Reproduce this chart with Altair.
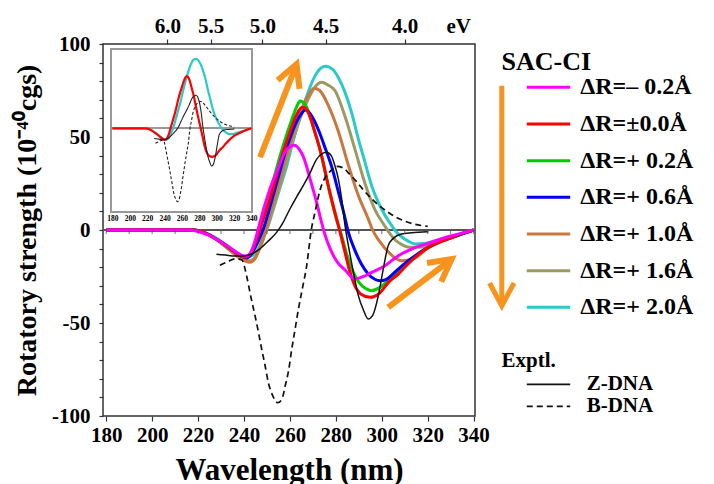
import math
import altair as alt
import pandas as pd

# ---------------- data ----------------
SERIES = ["ΔR=– 0.2Å", "ΔR=±0.0Å", "ΔR=+ 0.2Å", "ΔR=+ 0.6Å",
          "ΔR=+ 1.0Å", "ΔR=+ 1.6Å", "ΔR=+ 2.0Å"]
COLORS = ["#FF00FF", "#FF0000", "#00CC00", "#0000FF",
          "#C8783C", "#9C9A62", "#2ACACA"]

WL_M02 = [180, 200, 216, 220, 225, 230, 235, 238, 240, 242, 244, 246.3, 248.5, 251.3, 254.5, 257.8, 260, 262, 264, 265.8,
          267.3, 269, 271.6, 273.8, 275, 277.5, 280.5, 284, 288.3, 292, 295.6, 301.4, 307.2, 314, 321.7, 327, 333.3, 340]
RS_M02 = [0, 0, 0, -0.8, -3, -6.5, -10.5, -13, -14, -13.5, -9, 1, 11, 22, 32, 41.8, 44.8, 45.5, 43.5, 39.5,
          34, 26.5, 15, 4, -1.5, -10, -17, -21.5, -26.3, -25, -22.8, -19.2, -13.8, -9.7, -6.6, -4.3, -2.2, 0]

WL_P00 = [180, 200, 218, 222, 226, 230, 234, 238, 240.5, 243, 245, 247, 249, 251.3, 253.5, 255.7, 258, 260, 262.2, 264,
          265.5, 267, 269, 271, 273.8, 276.5, 279.6, 281.8, 284, 286, 288.3, 291, 295, 299, 303, 307.2, 310, 314.5, 320, 325,
          329, 334, 340]
RS_P00 = [0, 0, 0, -1, -3.5, -6.5, -10, -13.5, -14.7, -12.5, -7, 0.5, 8, 16.7, 26, 36.4, 45.5, 52.5, 60, 64.5,
          66, 65, 60, 52, 40, 25, 9.5, -1, -12, -22, -30, -34.5, -36.2, -34, -28, -23.7, -20, -14.7, -9.5, -6.5,
          -4.8, -2.2, 0]

WL_P02 = [180, 200, 218, 222, 226, 230, 234, 238, 240.5, 243, 245, 247, 249, 251, 253.5, 256, 258.5, 261, 263, 264.4,
          266, 268, 270, 272.5, 275, 277.5, 280, 282.5, 284.5, 287, 290, 293, 295.5, 299, 303, 307, 311, 315, 320, 325,
          330, 335, 340]
RS_P02 = [0, 0, 0, -1, -3.5, -6.5, -10, -13.5, -14.5, -12, -6, 1.5, 10, 19, 30, 41, 51, 60, 66.5, 69.3,
          68.5, 64, 56, 46, 33, 19, 7, -3, -12, -21, -28, -31.5, -32.6, -31, -27, -22, -17.5, -13.5, -9.5, -6.5,
          -4.2, -2, 0]

WL_P06 = [180, 200, 218, 222, 226, 230, 234, 238, 241, 243.5, 246, 248.4, 250.5, 253, 255.5, 258, 260.5, 263, 265, 266.6,
          268.5, 270.5, 273, 275.5, 278.2, 281, 283.5, 285.4, 288, 291, 294, 297, 299.2, 302, 305, 307.2, 311, 315, 320, 325,
          330, 335, 340]
RS_P06 = [0, 0, 0, -1, -3.5, -6.5, -10, -13.5, -15, -12.5, -6.5, 0.5, 9, 20, 31, 42, 51, 58.5, 62.5, 64.5,
          63, 59, 52, 43.5, 34, 21, 9, -1, -10, -18, -23.5, -26.5, -27.3, -26.5, -23.5, -21, -17, -13.5, -9.5, -6.5,
          -4.2, -2, 0]

WL_P10 = [180, 200, 218, 222, 226, 230, 234, 238, 242.6, 245, 247, 249.3, 252, 254.5, 257, 259.5, 262, 264.5, 267, 270.6,
          273, 276.7, 281.1, 285.4, 289.8, 294.1, 296, 299, 303, 308.6, 312, 315, 320, 325, 330, 335, 340]
RS_P10 = [0, 0, 0, -1, -3.5, -7, -11, -15, -17.4, -15, -9, -0.5, 12, 23, 34, 45, 55, 63, 70, 76.2,
          75, 67, 53, 35, 18.5, 6, 0, -6, -12, -16.5, -16, -14.7, -9.8, -6.7, -4.4, -2.1, 0]

WL_P16 = [180, 200, 218, 222, 226, 230, 234, 238, 242.5, 245, 247.5, 249.8, 252.5, 255, 257.5, 260, 262.5, 265, 268, 271,
          273.8, 276.5, 279.6, 284, 288.3, 292.7, 297, 301.4, 303, 306, 309, 312, 316, 320, 325, 330, 335, 340]
RS_P16 = [0, 0, 0, -1, -3.5, -7, -11, -14.5, -16.5, -14.5, -8, 0, 11, 21, 32, 43, 53, 62, 70.5, 77,
          79.4, 78, 75, 61, 43.5, 25, 11, 2, -1, -5.5, -8, -9.3, -9.3, -8.5, -6.3, -4.2, -2, 0]

WL_P20 = [180, 200, 218, 222, 226, 230, 234, 238, 241.5, 244, 246, 248, 250, 253, 256, 258.5, 261, 263.5, 266, 268.5,
          271, 273, 275.5, 278.5, 281.5, 284, 286.9, 289.8, 292.7, 295.6, 299.9, 304.3, 306, 308.5, 311.5, 314.5, 318, 322,
          326, 330, 335, 340]
RS_P20 = [0, 0, 0, -1, -3, -6, -9.5, -13, -14.5, -13.5, -10.5, -5, 0.5, 12, 24, 34, 46, 57, 67, 76,
          83, 86.5, 88, 86.5, 81, 74, 63, 49, 36.4, 23.8, 11.3, 2.3, -0.5, -3.5, -6, -7.5, -7.3, -6.2,
          -4.8, -3.6, -1.8, 0]

SAC_WL = [WL_M02, WL_P00, WL_P02, WL_P06, WL_P10, WL_P16, WL_P20]
SAC_RS = [RS_M02, RS_P00, RS_P02, RS_P06, RS_P10, RS_P16, RS_P20]

EXP_NAMES = ["Z-DNA", "B-DNA"]
WL_Z = [228, 232, 236, 240, 244, 247, 250.5, 254.2, 257, 260, 263, 265.8, 268.5, 271.6, 274, 276, 278, 279.5, 281.1, 282.5,
        284, 286, 288, 289.8, 292, 294.1, 296, 298.5, 300.5, 302.8, 305, 308.6, 313, 316, 320.3]
RS_Z = [-13, -13.5, -14, -14, -12.5, -10, -6, -1.3, 4, 11.3, 18, 23.8, 30, 38, 41, 41.8, 40, 35, 27.4, 17,
        2.3, -12, -25, -35.3, -43, -47.8, -46, -35.3, -22, -8.4, -4.5, -2.2, -1.5, -1.2, -0.9]
WL_B = [229.5, 233, 236, 239, 241.2, 243, 244.8, 246.3, 247.7, 249.2, 250.6, 252.5, 254.7, 256.5, 257.9, 259.5, 260.8,
        262.3, 263.7, 265.5, 267.3, 269.3, 271, 273, 275, 277.5, 280.3, 283, 286, 289, 292, 295, 298, 302.7, 306, 310,
        314, 317.9, 320]
RS_B = [-19, -17, -15.5, -16, -25, -36, -46, -55, -64, -73, -82, -89, -92.8, -91, -84, -75, -64,
        -53, -42.5, -31, -19.2, 0, 10, 21, 27.5, 31.5, 34.2, 33.5, 30, 26, 21.5, 17.5, 14, 9.6, 7, 4.8,
        3.2, 2.3, 2]

X_TICKS = [180, 200, 220, 240, 260, 280, 300, 320, 340]
Y_TICKS = [-100, -90, -80, -70, -60, -50, -40, -30, -20, -10, 0, 10, 20, 30, 40, 50, 60, 70, 80, 90, 100]
ZERO_TICKS = [180, 190, 200, 210, 220, 230, 240, 250, 260, 270, 280, 290, 300, 310, 320, 330, 340]
EV_TICKS = [6.0, 5.5, 5.0, 4.5, 4.0]
EV_LABEL_WL = 333.3
HC_EV_NM = 1239.84

ARROW_TAIL_WL = [247.0, 302.8]
ARROW_TAIL_RS = [39.1, -41.6]
ARROW_TIP_WL = [262.9, 330.4]
ARROW_TIP_RS = [89.2, -15.6]

# ---------------- tables ----------------
rows = []
for name, wls, vals in zip(SERIES, SAC_WL, SAC_RS):
    for w, v in zip(wls, vals):
        rows.append({"series": name, "wl": w, "rs": v})
for name, wls, vals in zip(EXP_NAMES, [WL_Z, WL_B], [RS_Z, RS_B]):
    for w, v in zip(wls, vals):
        rows.append({"series": name, "wl": w, "rs": v})
df = pd.DataFrame(rows)

# ---------------- layout ----------------
W, H = 372, 372
X_DOM = [178.6, 340.6]
Y_DOM = [-100, 100]
FONT = "Liberation Serif"
ORANGE = "#F7941D"
FRAME = "#333333"

px_nm = W / (X_DOM[1] - X_DOM[0])
px_rs = H / (Y_DOM[1] - Y_DOM[0])

xs = alt.Scale(domain=X_DOM, nice=False, zero=False)
ys = alt.Scale(domain=Y_DOM, nice=False, zero=False)

x_axis = alt.Axis(orient="bottom", values=X_TICKS, format="d", title="Wavelength (nm)",
                  tickSize=5, labelPadding=3, titlePadding=10, labelFontSize=21, titleFontSize=31,
                  labelFlush=False)
y_axis = alt.Axis(orient="left", values=Y_TICKS, title="Rotatory strength (10⁻⁴⁰cgs)",
                  labelExpr="datum.value % 50 === 0 ? (datum.value < 0 ? '-' + abs(datum.value) : '' + datum.value) : ''",
                  tickSize=4, labelPadding=9, titlePadding=10, labelFontSize=21, titleFontSize=28,
                  labelOverlap=False, labelFlush=False)


def curve(name, color, width, xscale, yscale, dash=None, xaxis=None, yaxis=None):
    mk = {"color": color, "strokeWidth": width, "interpolate": "monotone"}
    if dash is not None:
        mk["strokeDash"] = dash
    return (alt.Chart(df)
            .transform_filter(alt.datum.series == name)
            .mark_line(**mk)
            .encode(x=alt.X("wl:Q", scale=xscale, axis=xaxis),
                    y=alt.Y("rs:Q", scale=yscale, axis=yaxis)))


# ---------- main panel (all layers carry the same axis definitions) ----------
zero_line = alt.Chart(df).mark_rule(color="#555555", strokeWidth=1.2).encode(
    y=alt.Y(datum=0, scale=ys, axis=y_axis))

draw_order = [6, 5, 4, 2, 3, 1, 0]
main_layers = [zero_line]
for i in draw_order:
    main_layers.append(curve(SERIES[i], COLORS[i], 3, xs, ys, xaxis=x_axis, yaxis=y_axis))
main_layers.append(curve("Z-DNA", "#111111", 1.5, xs, ys, xaxis=x_axis, yaxis=y_axis))
main_layers.append(curve("B-DNA", "#111111", 1.7, xs, ys, dash=[6, 4], xaxis=x_axis, yaxis=y_axis))

arr = pd.DataFrame({"wl0": ARROW_TAIL_WL, "rs0": ARROW_TAIL_RS,
                    "wl1": ARROW_TIP_WL, "rs1": ARROW_TIP_RS})
arr["ang"] = [math.degrees(math.atan2((b - a) * px_nm, (d - c) * px_rs))
              for a, b, c, d in zip(arr.wl0, arr.wl1, arr.rs0, arr.rs1)]
CHEVRON = "M-0.47,0.88L0,0L0.47,0.88"
shafts = alt.Chart(arr).mark_rule(color=ORANGE, strokeWidth=6, strokeCap="butt").encode(
    x=alt.X("wl0:Q", scale=xs, axis=x_axis), x2="wl1:Q",
    y=alt.Y("rs0:Q", scale=ys, axis=y_axis), y2="rs1:Q")
heads = alt.Chart(arr).mark_point(shape=CHEVRON, filled=False, color=ORANGE, strokeWidth=6,
                                  size=2500, opacity=1, strokeJoin="miter", strokeCap="butt").encode(
    x=alt.X("wl1:Q", scale=xs, axis=x_axis), y=alt.Y("rs1:Q", scale=ys, axis=y_axis),
    angle=alt.Angle("ang:Q", scale=None))
main_layers += [shafts, heads]
main = alt.layer(*main_layers)

# ---------- top (eV) axis + ticks on the zero line ----------
top_values = [HC_EV_NM / e for e in EV_TICKS] + [EV_LABEL_WL]
ev_axis = alt.Axis(orient="top", values=top_values, title=None, tickSize=5, labelPadding=3,
                   labelFontSize=21, labelFlush=False,
                   labelExpr=f"datum.value > 330 ? 'eV' : format({HC_EV_NM}/datum.value, '.1f')",
                   tickOpacity={"condition": {"test": "datum.value > 330", "value": 0}, "value": 1})
zt = pd.DataFrame({"wl": ZERO_TICKS, "zero": [0] * len(ZERO_TICKS)})
top = alt.Chart(zt).mark_tick(orient="vertical", size=4, thickness=1.2, color="#555555", yOffset=2).encode(
    x=alt.X("wl:Q", scale=xs, axis=ev_axis),
    y=alt.Y("zero:Q", scale=ys, axis=None))

# ---------- inset ----------
IN_X_RANGE = [8.2, 149.0]
IN_Y_DOM = [-105.6, 100.4]
IN_Y_RANGE = [167.7, 5.0]
xi = alt.Scale(domain=X_DOM, range=IN_X_RANGE, nice=False, zero=False)
yi = alt.Scale(domain=IN_Y_DOM, range=IN_Y_RANGE, nice=False, zero=False)
in_axis = alt.Axis(orient="bottom", values=X_TICKS, format="d", title=None, ticks=False, domain=False,
                   labelFontSize=7.5, labelPadding=3, offset=IN_Y_RANGE[0] - H, labelOverlap=False,
                   labelFlush=False)
in_frame = alt.Chart(df).mark_rect(filled=False, stroke="#999999", strokeWidth=1.2).encode(
    x=alt.X(datum=X_DOM[0], scale=xi, axis=in_axis), x2=alt.X2(datum=X_DOM[1]),
    y=alt.Y(datum=IN_Y_DOM[0], scale=yi, axis=None), y2=alt.Y2(datum=IN_Y_DOM[1]))
in_zero = alt.Chart(df).mark_rule(color="#999999", strokeWidth=1).encode(
    x=alt.X(datum=X_DOM[0], scale=xi, axis=in_axis), x2=alt.X2(datum=X_DOM[1]),
    y=alt.Y(datum=0, scale=yi, axis=None))
inset = alt.layer(
    in_frame, in_zero,
    curve(SERIES[6], COLORS[6], 2.2, xi, yi, xaxis=in_axis),
    curve(SERIES[1], COLORS[1], 2.2, xi, yi, xaxis=in_axis),
    curve("Z-DNA", "#222222", 1.1, xi, yi, xaxis=in_axis),
    curve("B-DNA", "#222222", 1.1, xi, yi, dash=[3, 2], xaxis=in_axis),
)

# ---------- legend panel ----------
xl = alt.Scale(domain=[0, 1], range=[423.8, 467.2], nice=False, zero=False)
yl = alt.Scale(domain=[0, 6], range=[43.3, 263.3], nice=False, zero=False)
leg_sac = pd.DataFrame({"label": SERIES, "row": list(range(len(SERIES)))})
leg_exp = pd.DataFrame({"label": EXP_NAMES, "row": [8.1, 8.7]})
leg_head = pd.DataFrame({"label": ["SAC-CI", "Exptl."], "row": [-0.69, 7.46], "size": [26, 21]})

sac_lines = alt.Chart(leg_sac).mark_rule(strokeWidth=3).encode(
    x=alt.X(datum=0, scale=xl, axis=None), x2=alt.X2(datum=1),
    y=alt.Y("row:Q", scale=yl, axis=None),
    color=alt.Color("label:N", scale=alt.Scale(domain=SERIES, range=COLORS), legend=None))
sac_text = alt.Chart(leg_sac).mark_text(align="left", baseline="middle", font=FONT, fontWeight="bold",
                                        fontSize=24, color="black").encode(
    x=alt.X(datum=1.23, scale=xl, axis=None), y=alt.Y("row:Q", scale=yl, axis=None), text="label:N")
exp_lines = alt.Chart(leg_exp).mark_rule(strokeWidth=1.7, color="#111111").encode(
    x=alt.X(datum=0, scale=xl, axis=None), x2=alt.X2(datum=1),
    y=alt.Y("row:Q", scale=yl, axis=None),
    strokeDash=alt.StrokeDash("label:N", scale=alt.Scale(domain=EXP_NAMES, range=[[1, 0], [6, 4]]),
                              legend=None))
exp_text = alt.Chart(leg_exp).mark_text(align="left", baseline="middle", font=FONT, fontWeight="bold",
                                        fontSize=21, color="black").encode(
    x=alt.X(datum=1.38, scale=xl, axis=None), y=alt.Y("row:Q", scale=yl, axis=None), text="label:N")
head_text = alt.Chart(leg_head).mark_text(align="left", baseline="middle", font=FONT, fontWeight="bold",
                                          color="black").encode(
    x=alt.X(datum=-0.583, scale=xl, axis=None), y=alt.Y("row:Q", scale=yl, axis=None), text="label:N",
    size=alt.Size("size:Q", scale=None))
leg_arrow = pd.DataFrame({"r0": [-0.04], "r1": [5.96], "ang": [180]})
leg_shaft = alt.Chart(leg_arrow).mark_rule(color=ORANGE, strokeWidth=5, strokeCap="butt").encode(
    x=alt.X(datum=-0.576, scale=xl, axis=None), y=alt.Y("r0:Q", scale=yl, axis=None), y2="r1:Q")
leg_tip = alt.Chart(leg_arrow).mark_point(shape=CHEVRON, filled=False, color=ORANGE, strokeWidth=5,
                                          size=2700, opacity=1, strokeJoin="miter", strokeCap="butt").encode(
    x=alt.X(datum=-0.576, scale=xl, axis=None), y=alt.Y("r1:Q", scale=yl, axis=None),
    angle=alt.Angle("ang:Q", scale=None))
legend = alt.layer(sac_lines, sac_text, exp_lines, exp_text, head_text, leg_shaft, leg_tip)

chart = (alt.layer(main, top, inset, legend)
         .resolve_scale(x="independent", y="independent", color="independent", strokeDash="independent")
         .properties(width=W, height=H, background="white",
                     padding={"left": 5, "top": 7, "right": 5, "bottom": 5})
         .configure_view(stroke=FRAME, strokeWidth=1.5)
         .configure_axis(labelFont=FONT, titleFont=FONT, labelFontWeight="bold", titleFontWeight="bold",
                         labelColor="black", titleColor="black", tickColor=FRAME, tickWidth=1.2,
                         grid=False, domain=False))

chart.save("out.html", embed_options={"renderer": "svg", "actions": False})
